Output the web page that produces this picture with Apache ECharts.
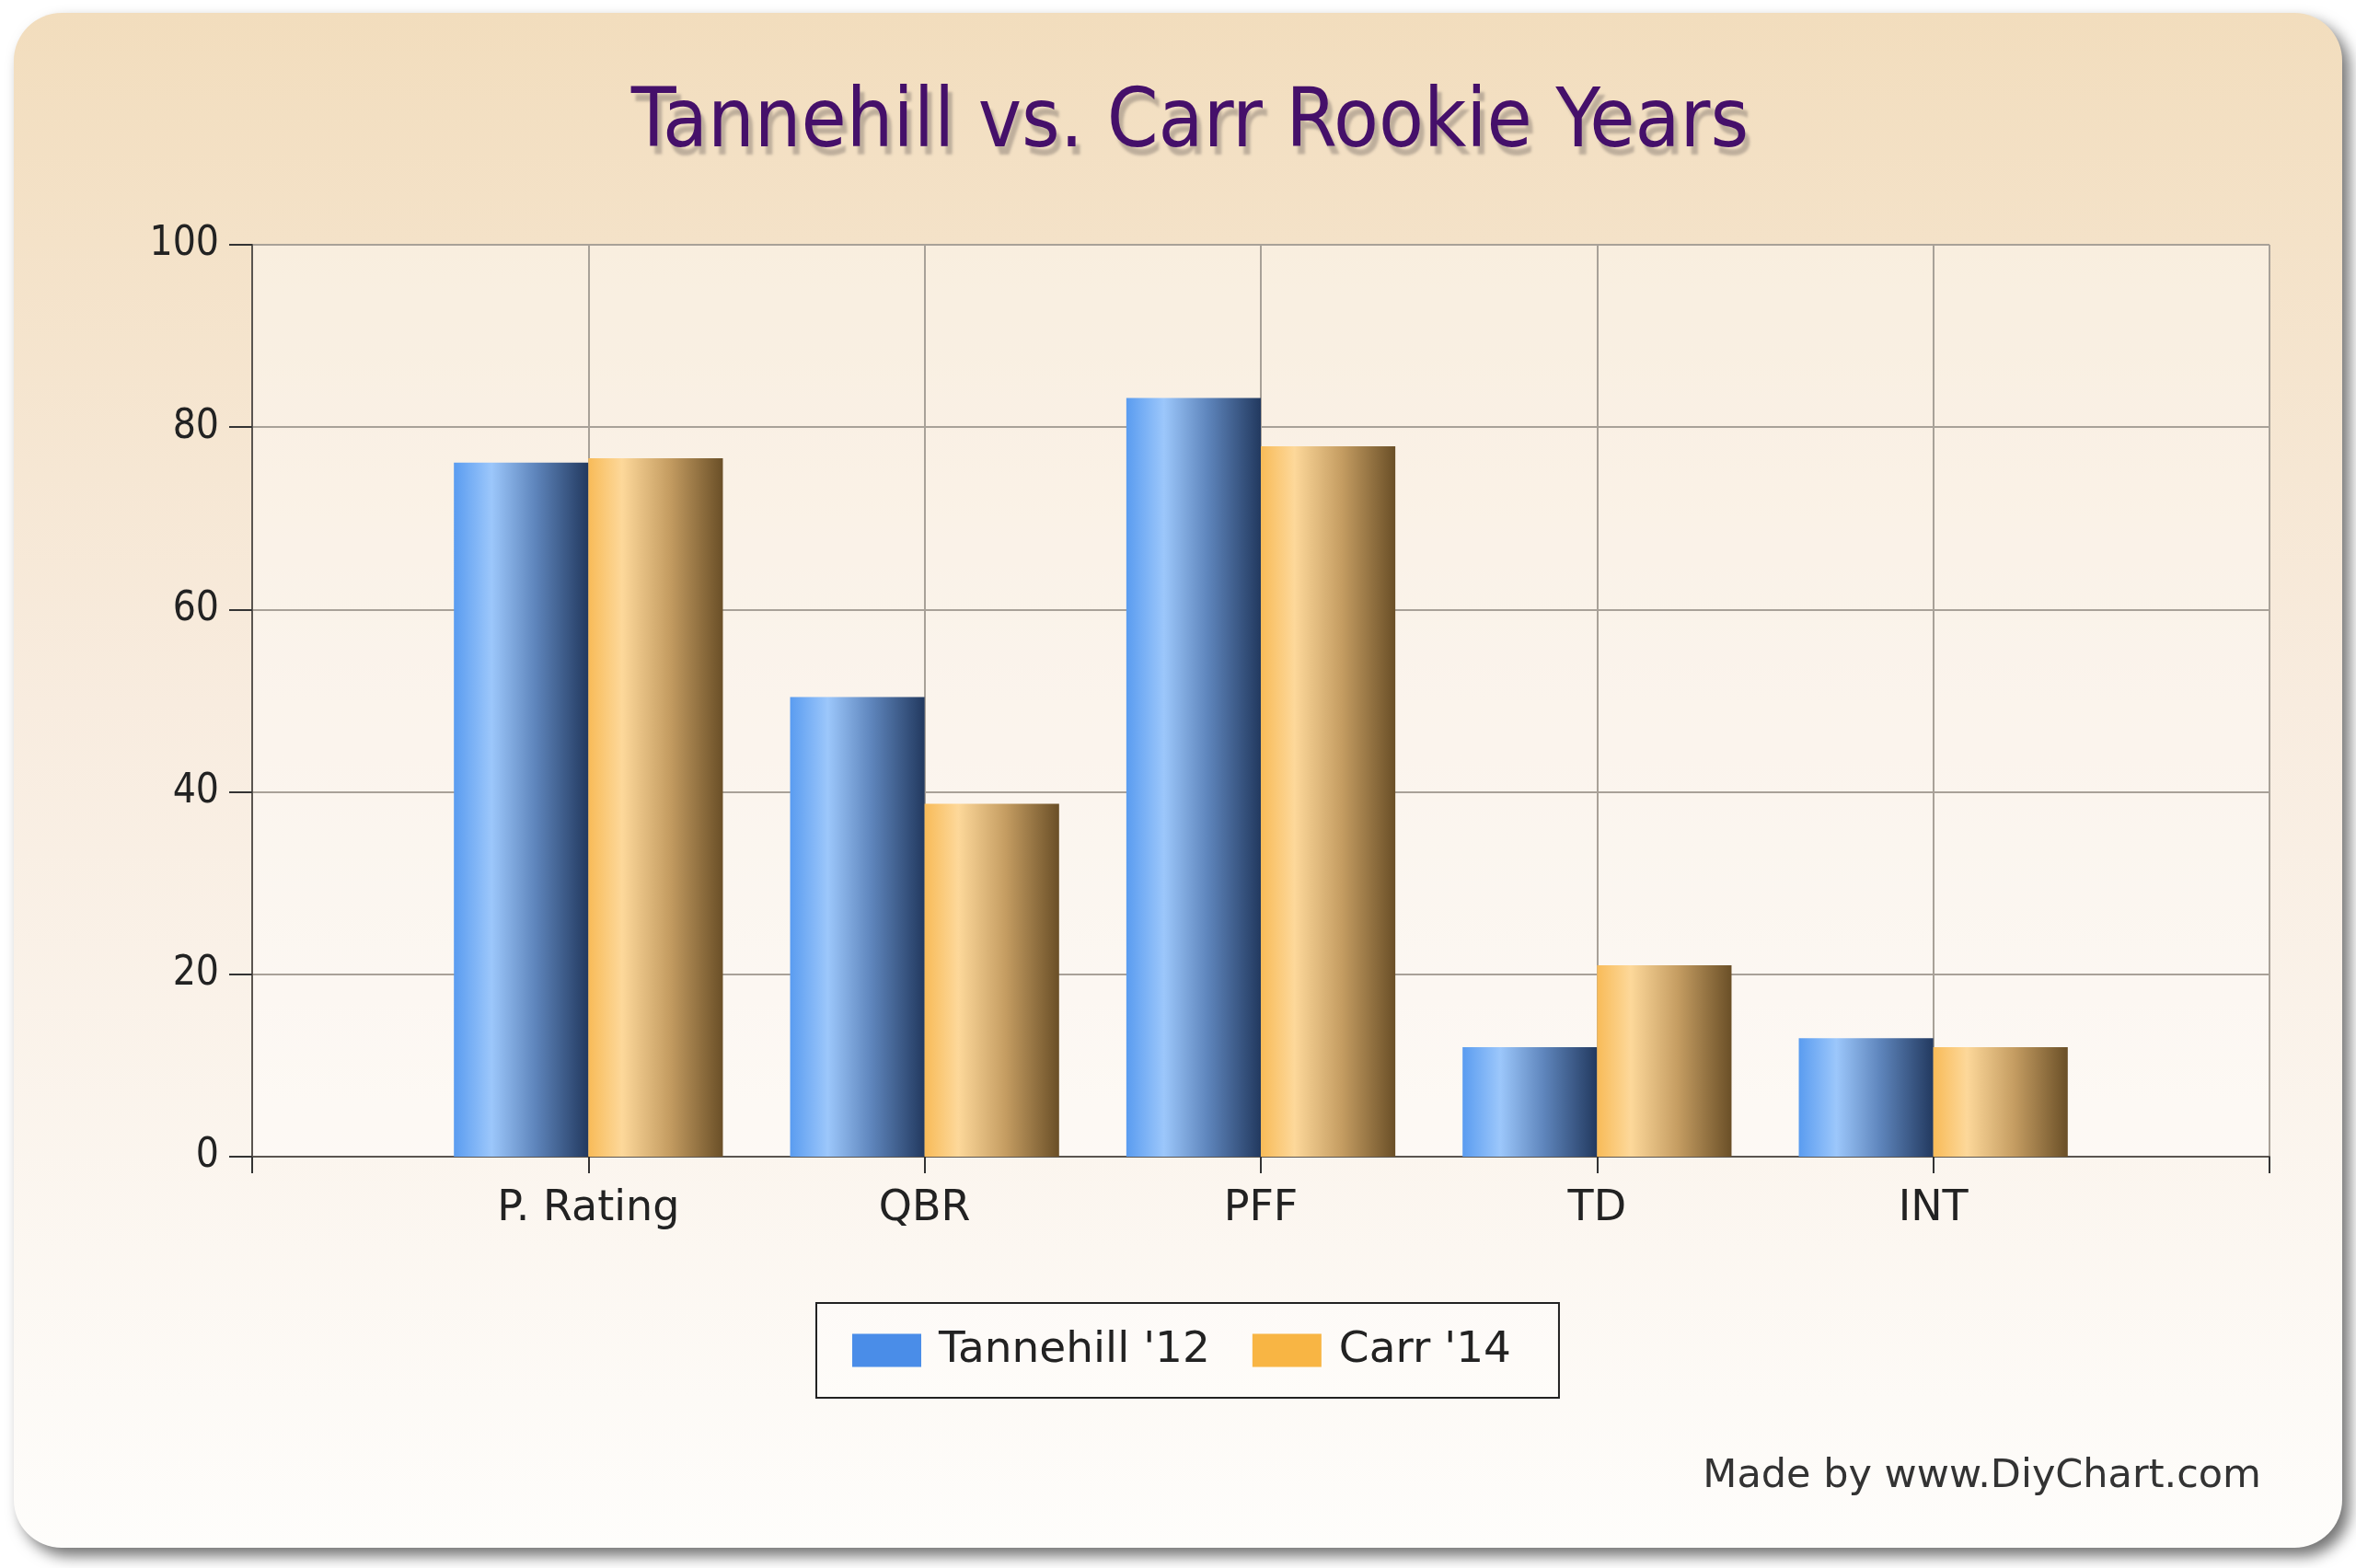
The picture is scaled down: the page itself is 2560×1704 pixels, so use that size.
<!DOCTYPE html>
<html>
<head>
<meta charset="utf-8">
<script src="https://cdn.jsdelivr.net/npm/echarts@6/dist/echarts.min.js"></script>
<style>
html,body{margin:0;padding:0;background:#ffffff;}
#chart{width:2560px;height:1704px;}
</style>
</head>
<body>
<div id="chart"></div>
<script>
const titleText = "Tannehill vs. Carr Rookie Years";
const creditText = "Made by www.DiyChart.com";
const categories = ["P. Rating", "QBR", "PFF", "TD", "INT"];
const seriesNames = ["Tannehill '12", "Carr '14"];
const tannehill = [76.1, 50.4, 83.2, 12, 13];
const carr = [76.6, 38.7, 77.9, 21, 12];
const yTicks = [0, 20, 40, 60, 80, 100];

// pad the category axis with an empty slot on each side (chart leaves one interval of space at both ends)
const axisCats = [""].concat(categories, [""]);
const pad = arr => [null].concat(arr, [null]);

const FONT_C = "DejaVu Sans Condensed";
const FONT = "DejaVu Sans";

const blueGrad = new echarts.graphic.LinearGradient(0, 0, 1, 0, [
  {offset: 0, color: '#5a9cf0'},
  {offset: 0.28, color: '#9cc7fb'},
  {offset: 0.6, color: '#5f86bd'},
  {offset: 1, color: '#22395f'}
]);
const orangeGrad = new echarts.graphic.LinearGradient(0, 0, 1, 0, [
  {offset: 0, color: '#f8bb58'},
  {offset: 0.25, color: '#fdd89a'},
  {offset: 0.6, color: '#c59d62'},
  {offset: 1, color: '#6a4f27'}
]);

const chart = echarts.init(document.getElementById('chart'), null, {renderer: 'canvas'});
chart.setOption({
  backgroundColor: '#ffffff',
  animation: false,
  graphic: [{
    type: 'rect',
    z: -100,
    shape: {x: 15, y: 14, width: 2530, height: 1668, r: 52},
    style: {
      fill: new echarts.graphic.LinearGradient(0, 0, 0, 1, [
        {offset: 0, color: '#f2ddbd'},
        {offset: 0.45, color: '#f8ecdf'},
        {offset: 1, color: '#fefdfb'}
      ]),
      shadowBlur: 16,
      shadowOffsetX: 8,
      shadowOffsetY: 9,
      shadowColor: 'rgba(0,0,0,0.55)'
    }
  }],
  title: [{
    text: titleText,
    left: 1288,
    textAlign: 'center',
    top: 86,
    textStyle: {
      fontFamily: FONT_C,
      fontSize: 89,
      fontWeight: 'normal',
      color: '#45106a',
      textShadowColor: 'rgba(90,80,80,0.35)',
      textShadowOffsetX: 5,
      textShadowOffsetY: 9,
      textShadowBlur: 3
    }
  }, {
    text: creditText,
    right: 98,
    top: 1578,
    textStyle: {
      fontFamily: FONT,
      fontSize: 43,
      fontWeight: 'normal',
      color: '#333333'
    }
  }],
  legend: {
    left: 887,
    top: 1416,
    orient: 'horizontal',
    data: [
      {name: seriesNames[0], itemStyle: {color: '#4a8de8'}},
      {name: seriesNames[1], itemStyle: {color: '#f8b544'}}
    ],
    icon: 'rect',
    itemWidth: 75,
    itemHeight: 36,
    itemGap: 46,
    padding: [28, 52, 28, 39],
    borderColor: '#222222',
    borderWidth: 2,
    backgroundColor: 'rgba(255,255,255,0.35)',
    textStyle: {
      fontFamily: FONT,
      fontSize: 47,
      color: '#222222',
      padding: [8, 0, 0, 14]
    }
  },
  grid: {
    left: 274,
    top: 266,
    width: 2192,
    height: 991,
    show: true,
    borderWidth: 0,
    backgroundColor: 'rgba(255,255,255,0.42)'
  },
  xAxis: {
    type: 'category',
    data: axisCats,
    boundaryGap: false,
    axisLine: {show: true, lineStyle: {color: '#5a5550', width: 2}},
    axisTick: {show: true, length: 18, lineStyle: {color: '#333333', width: 2}},
    axisLabel: {
      show: true,
      interval: 0,
      margin: 34,
      fontFamily: FONT,
      fontSize: 46,
      color: '#222222'
    },
    splitLine: {show: true, lineStyle: {color: '#a8a198', width: 2}}
  },
  yAxis: {
    type: 'value',
    min: yTicks[0],
    max: yTicks[yTicks.length - 1],
    interval: yTicks[1] - yTicks[0],
    axisLine: {show: true, lineStyle: {color: '#5a5550', width: 2}},
    axisTick: {show: true, length: 25, lineStyle: {color: '#333333', width: 2}},
    axisLabel: {
      margin: 36,
      fontFamily: FONT_C,
      fontSize: 44,
      color: '#222222'
    },
    splitLine: {show: true, lineStyle: {color: '#a8a198', width: 2}}
  },
  series: [{
    name: seriesNames[0],
    type: 'bar',
    data: pad(tannehill),
    barWidth: '40%',
    barGap: '0%',
    itemStyle: {color: blueGrad}
  }, {
    name: seriesNames[1],
    type: 'bar',
    data: pad(carr),
    barWidth: '40%',
    barGap: '0%',
    itemStyle: {color: orangeGrad}
  }]
});
</script>
</body>
</html>
